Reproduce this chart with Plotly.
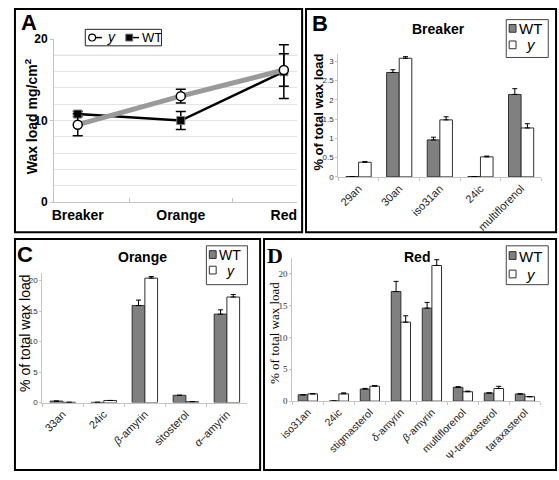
import plotly.graph_objects as go

# ---------------- data ----------------
stages = ["Breaker", "Orange", "Red"]
wax_y = [9.5, 13.0, 16.2]
wax_y_err = [1.35, 0.85, 2.0]
wax_wt = [10.8, 10.0, 16.0]
wax_wt_err = [0.3, 1.1, 3.3]

b_cats = ["29an", "30an", "iso31an", "24ic", "multiflorenol"]
b_wt = [0.01, 2.71, 0.96, 0.01, 2.14]
b_wt_err = [0.0, 0.07, 0.07, 0.0, 0.15]
b_y = [0.38, 3.08, 1.48, 0.52, 1.27]
b_y_err = [0.02, 0.04, 0.08, 0.02, 0.11]

c_cats = ["33an", "24ic", "β-amyrin", "sitosterol", "α-amyrin"]
c_labels = ["33an", "24ic", "<i>β</i>-amyrin", "sitosterol", "<i>α</i>–amyrin"]
c_wt = [0.25, 0.05, 15.9, 1.2, 14.5]
c_wt_err = [0.0, 0.0, 0.9, 0.0, 0.7]
c_y = [0.05, 0.35, 20.4, 0.15, 17.3]
c_y_err = [0.0, 0.0, 0.25, 0.0, 0.4]

d_cats = ["iso31an", "24ic", "stigmasterol", "δ-amyrin", "β-amyrin",
          "multiflorenol", "Ψ-taraxasterol", "taraxasterol"]
d_labels = ["iso31an", "24ic", "stigmasterol", "<i>δ</i>-amyrin", "<i>β</i>-amyrin",
            "multiflorenol", "Ψ-taraxasterol", "taraxasterol"]
d_wt = [1.0, 0.02, 1.9, 17.2, 14.6, 2.17, 1.28, 1.13]
d_wt_err = [0.0, 0.0, 0.1, 1.6, 0.9, 0.1, 0.0, 0.0]
d_y = [1.15, 1.15, 2.35, 12.4, 21.3, 1.48, 1.98, 0.7]
d_y_err = [0.0, 0.15, 0.1, 1.0, 0.9, 0.1, 0.35, 0.0]

# ---------------- helpers ----------------
W, H = 559, 480
SANS = "Liberation Sans, Arial, sans-serif"
SERIF = "Liberation Serif, Times New Roman, serif"


def px(x):
    return x / W


def py(y):
    return 1 - y / H


fig = go.Figure()

# ---------------- panel A ----------------
fig.add_trace(go.Scatter(
    x=stages, y=wax_wt, name="WT", mode="lines+markers",
    line=dict(color="black", width=2.5),
    marker=dict(symbol="square", size=8, color="black", line=dict(color="#777", width=1)),
    error_y=dict(type="data", array=wax_wt_err, color="black", thickness=1.5, width=5),
    xaxis="x", yaxis="y", showlegend=False))
fig.add_trace(go.Scatter(
    x=stages, y=wax_y, name="y", mode="lines+markers",
    line=dict(color="#9a9a9a", width=5),
    marker=dict(symbol="circle", size=9, color="white", line=dict(color="black", width=1.5)),
    error_y=dict(type="data", array=wax_y_err, color="black", thickness=1.5, width=5),
    xaxis="x", yaxis="y", showlegend=False))


def bar_pair(cats, wt, wt_err, yv, y_err, xa, ya):
    zeros = [0] * len(cats)
    fig.add_trace(go.Bar(
        x=cats, y=wt, name="WT", marker=dict(color="#808080", line=dict(color="#303030", width=1)),
        error_y=dict(type="data", symmetric=False, array=wt_err, arrayminus=zeros,
                     color="black", thickness=1, width=2.5),
        xaxis=xa, yaxis=ya, showlegend=False))
    fig.add_trace(go.Bar(
        x=cats, y=yv, name="y", marker=dict(color="white", line=dict(color="#303030", width=1)),
        error_y=dict(type="data", symmetric=False, array=y_err, arrayminus=zeros,
                     color="black", thickness=1, width=2.5),
        xaxis=xa, yaxis=ya, showlegend=False))


bar_pair(b_cats, b_wt, b_wt_err, b_y, b_y_err, "x2", "y2")
bar_pair(c_cats, c_wt, c_wt_err, c_y, c_y_err, "x3", "y3")
bar_pair(d_cats, d_wt, d_wt_err, d_y, d_y_err, "x4", "y4")

axis_line = "#c4c4c4"

fig.update_layout(
    width=W, height=H, margin=dict(l=0, r=0, t=0, b=0),
    paper_bgcolor="white", plot_bgcolor="white",
    barmode="group", bargap=0.38, bargroupgap=0.0,
    font=dict(family=SANS, color="black"),
    # A
    xaxis=dict(domain=[px(42), px(291)], anchor="y", type="category", range=[-0.23, 2.13],
               showline=True, linecolor=axis_line, showgrid=False, zeroline=False,
               tickson="boundaries", ticks="inside", ticklen=4, tickcolor=axis_line,
               tickfont=dict(family=SANS, size=14, weight="bold", color="black")),
    yaxis=dict(domain=[py(201), py(33)], anchor="x", range=[0, 20],
               tickvals=[0, 10, 20], showline=True, linecolor=axis_line,
               ticks="outside", ticklen=3, tickcolor=axis_line,
               showgrid=True, gridcolor="#e4e4e4", zeroline=False,
               minor=dict(dtick=2, tick0=0, showgrid=True, gridcolor="#e4e4e4"),
               tickfont=dict(family=SANS, size=12, weight="bold", color="black")),
    # B
    xaxis2=dict(domain=[px(333), px(541)], anchor="y2", type="category",
                showline=True, linecolor=axis_line, showgrid=False, zeroline=False,
                tickson="boundaries", ticks="outside", ticklen=3, tickcolor=axis_line,
                tickangle=-45, tickfont=dict(family=SANS, size=11, color="#222")),
    yaxis2=dict(domain=[py(175), py(48)], anchor="x2", range=[0, 3.2],
                dtick=0.5, showline=True, linecolor=axis_line, showgrid=False, zeroline=False,
                ticks="outside", ticklen=2, tickcolor=axis_line,
                tickfont=dict(family=SANS, size=8, color="#333")),
    # C
    xaxis3=dict(domain=[px(30), px(240)], anchor="y3", type="category",
                tickvals=c_cats, ticktext=c_labels,
                showline=True, linecolor=axis_line, showgrid=False, zeroline=False,
                tickson="boundaries", ticks="outside", ticklen=3, tickcolor=axis_line,
                tickangle=-45, tickfont=dict(family=SANS, size=11, color="#222")),
    yaxis3=dict(domain=[py(407.5), py(273.6)], anchor="x3", range=[0, 21.3],
                dtick=5, showline=True, linecolor=axis_line, showgrid=False, zeroline=False,
                ticks="outside", ticklen=2, tickcolor=axis_line,
                tickfont=dict(family=SANS, size=8, color="#333")),
    # D
    xaxis4=dict(domain=[px(286), px(540)], anchor="y4", type="category",
                tickvals=d_cats, ticktext=d_labels,
                showline=True, linecolor=axis_line, showgrid=False, zeroline=False,
                tickson="boundaries", ticks="outside", ticklen=3, tickcolor=axis_line,
                tickangle=-45, tickfont=dict(family=SANS, size=10.5, color="#222")),
    yaxis4=dict(domain=[py(406), py(259)], anchor="x4", range=[0, 22.4],
                dtick=5, showline=True, linecolor=axis_line, showgrid=False, zeroline=False,
                ticks="outside", ticklen=2, tickcolor=axis_line,
                tickfont=dict(family=SERIF, size=9, color="#333")),
)

shapes = []
# darker reference line at 18 in panel A
shapes.append(dict(type="line", xref="x domain", yref="y", x0=0, x1=1, y0=18, y1=18,
                   line=dict(color="#a8a8a8", width=1), layer="below"))

# panel frames
for (x0, y0, x1, y1) in [(2, 2, 296, 232), (300, 2, 556, 232), (2, 239, 253, 477), (257, 239, 556, 477)]:
    shapes.append(dict(type="rect", xref="paper", yref="paper",
                       x0=px(x0), x1=px(x1), y0=py(y1), y1=py(y0),
                       line=dict(color="black", width=2), fillcolor="rgba(0,0,0,0)"))


def rect(x0, y0, x1, y1, fill, line="#303030", lw=1):
    shapes.append(dict(type="rect", xref="paper", yref="paper",
                       x0=px(x0), x1=px(x1), y0=py(y1), y1=py(y0),
                       line=dict(color=line, width=lw), fillcolor=fill))


annotations = []


def text(x, y, s, size, family=SANS, bold=False, italic=False, angle=0, xanchor="center", color="black"):
    annotations.append(dict(xref="paper", yref="paper", x=px(x), y=py(y), text=s,
                            showarrow=False, xanchor=xanchor, yanchor="middle", textangle=angle,
                            font=dict(family=family, size=size, color=color,
                                      weight="bold" if bold else "normal",
                                      style="italic" if italic else "normal")))


# panel A legend
rect(74, 23, 152, 40, "white", line="#222", lw=1)
shapes.append(dict(type="line", xref="paper", yref="paper", x0=px(84), x1=px(91), y0=py(31.5), y1=py(31.5),
                   line=dict(color="black", width=1.5)))
shapes.append(dict(type="circle", xref="paper", yref="paper", x0=px(77.5), x1=px(84.5), y0=py(35), y1=py(28),
                   line=dict(color="black", width=1.2), fillcolor="white"))
text(94, 31, "y", 14, italic=True, xanchor="left")
shapes.append(dict(type="line", xref="paper", yref="paper", x0=px(122), x1=px(129), y0=py(31.5), y1=py(31.5),
                   line=dict(color="black", width=1.5)))
rect(115.5, 28, 122.5, 35, "black", line="#666")
text(130, 31.5, "WT", 13, xanchor="left")


def bar_legend(x0, y0, x1, y1, sq1, sq2, t1, t2, fs=15):
    rect(x0, y0, x1, y1, "white", line="#444", lw=1)
    rect(*sq1, "#808080", line="#303030")
    rect(*sq2, "white", line="#303030")
    text(t1[0], t1[1], "WT", fs, xanchor="left")
    text(t2[0], t2[1], "y", fs, italic=True, xanchor="left")


bar_legend(505, 13, 548, 52, (508, 18, 515, 26), (508, 35, 515, 43), (516, 22.5), (523, 39))
bar_legend(198, 246, 240, 286, (201, 251, 208, 259), (201, 267, 208, 275), (209, 255), (216, 271.5), fs=14)
bar_legend(505, 246, 548, 286, (508, 252, 515, 260), (508, 271, 515, 279), (516, 256.5), (523, 275.5))

# panel letters
text(16, 16, "A", 22, bold=True)
text(314, 17, "B", 22, bold=True)
text(12, 255, "C", 22, bold=True)
text(268, 256, "D", 22, family=SERIF, bold=True)

# panel titles
text(436, 23, "Breaker", 14, bold=True)
text(133, 257, "Orange", 14, bold=True)
text(414, 258, "Red", 14, bold=True)

# y-axis titles
text(18, 113, "Wax load mg/cm<sup>2</sup>", 14, bold=True, angle=-90)
text(313, 108, "% of total wax load", 13, bold=True, angle=-90)
text(12, 336, "% of total wax load", 14, angle=-90)
text(267, 336, "% of total wax load", 13, family=SERIF, angle=-90)

fig.update_layout(shapes=shapes, annotations=annotations)

fig.write_html("out.html", config={"displayModeBar": False},
               post_script="document.body.style.margin='0px';document.body.style.padding='0px';")
